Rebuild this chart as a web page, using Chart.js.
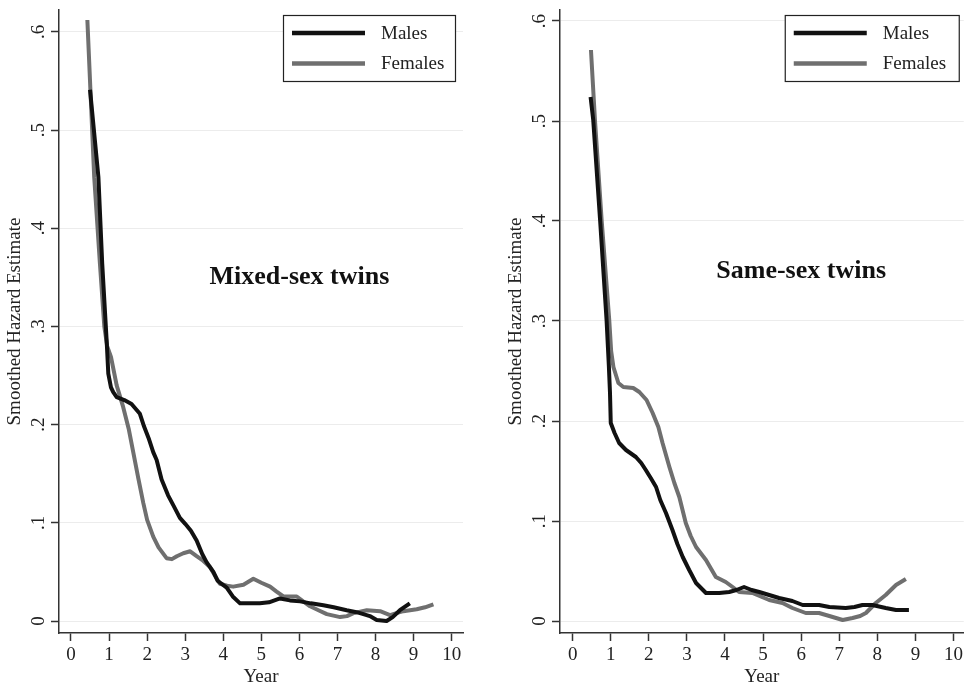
<!DOCTYPE html>
<html lang="en">
<head>
<meta charset="UTF-8">
<title>Smoothed Hazard Estimates - Twins</title>
<script src="https://cdn.jsdelivr.net/npm/chart.js"></script>
<style>
  html, body { margin: 0; padding: 0; background: #fff; }
  body { width: 966px; height: 686px; position: relative; overflow: hidden; }
  .panel { position: absolute; top: 0; }
  #left { left: 0; }
  #right { left: 501px; }
</style>
</head>
<body>
<div class="panel" id="left"><canvas id="mixedChart" width="466" height="686"></canvas></div>
<div class="panel" id="right"><canvas id="sameChart" width="465" height="686"></canvas></div>

<script>
// axis ticks
const xTicks = [0, 1, 2, 3, 4, 5, 6, 7, 8, 9, 10];
const yTicks = [0, 0.1, 0.2, 0.3, 0.4, 0.5, 0.6];
const yTickLabels = ['0', '.1', '.2', '.3', '.4', '.5', '.6'];
const seriesNames = ['Males', 'Females'];

// mixed-sex twins (left panel)
const mixedMaleX = [0.50, 0.72, 0.82, 0.94, 0.98, 1.05, 1.11, 1.20, 1.40, 1.59, 1.81, 1.92, 2.05, 2.16, 2.25, 2.38, 2.55, 2.70, 2.86, 3.00, 3.15, 3.30, 3.45, 3.56, 3.74, 3.85, 4.09, 4.25, 4.44, 4.70, 4.96, 5.20, 5.49, 5.75, 6.02, 6.30, 6.63, 6.90, 7.24, 7.50, 7.68, 7.85, 8.03, 8.29, 8.45, 8.64, 8.90];
const mixedMaleY = [0.541, 0.452, 0.364, 0.283, 0.252, 0.238, 0.233, 0.228, 0.225, 0.221, 0.211, 0.198, 0.185, 0.172, 0.164, 0.144, 0.128, 0.117, 0.105, 0.099, 0.092, 0.082, 0.068, 0.060, 0.050, 0.041, 0.034, 0.025, 0.018, 0.018, 0.018, 0.019, 0.023, 0.021, 0.020, 0.018, 0.016, 0.014, 0.011, 0.009, 0.007, 0.005, 0.001, 0.000, 0.004, 0.011, 0.018];
const mixedFemaleX = [0.43, 0.61, 0.76, 0.875, 0.95, 1.05, 1.20, 1.37, 1.52, 1.64, 1.77, 1.90, 2.00, 2.16, 2.30, 2.51, 2.65, 2.78, 2.95, 3.13, 3.30, 3.45, 3.65, 3.80, 3.91, 4.10, 4.26, 4.53, 4.79, 5.00, 5.23, 5.40, 5.58, 5.93, 6.10, 6.28, 6.50, 6.72, 7.07, 7.25, 7.42, 7.77, 8.12, 8.38, 8.55, 8.73, 9.08, 9.30, 9.52];
const mixedFemaleY = [0.612, 0.452, 0.364, 0.300, 0.280, 0.269, 0.240, 0.218, 0.195, 0.171, 0.145, 0.120, 0.103, 0.086, 0.075, 0.064, 0.063, 0.066, 0.069, 0.071, 0.066, 0.062, 0.055, 0.045, 0.038, 0.036, 0.035, 0.037, 0.043, 0.039, 0.035, 0.030, 0.025, 0.025, 0.020, 0.015, 0.011, 0.007, 0.004, 0.005, 0.008, 0.011, 0.010, 0.006, 0.008, 0.010, 0.012, 0.014, 0.017];

// same-sex twins (right panel)
const sameMaleX = [0.47, 0.54, 0.72, 0.89, 0.95, 0.98, 1.00, 1.10, 1.22, 1.40, 1.66, 1.80, 1.92, 2.05, 2.19, 2.30, 2.45, 2.62, 2.75, 2.89, 3.06, 3.24, 3.50, 3.85, 4.11, 4.30, 4.50, 4.70, 4.90, 5.16, 5.42, 5.77, 6.04, 6.47, 6.74, 7.17, 7.40, 7.61, 7.87, 8.22, 8.49, 8.83];
const sameMaleY = [0.524, 0.501, 0.401, 0.301, 0.255, 0.228, 0.198, 0.188, 0.178, 0.171, 0.164, 0.158, 0.151, 0.143, 0.134, 0.121, 0.108, 0.091, 0.077, 0.064, 0.051, 0.038, 0.028, 0.028, 0.029, 0.031, 0.034, 0.031, 0.029, 0.026, 0.023, 0.020, 0.016, 0.016, 0.014, 0.013, 0.014, 0.016, 0.016, 0.013, 0.011, 0.011];
const sameFemaleX = [0.48, 0.585, 0.76, 0.96, 1.01, 1.07, 1.20, 1.33, 1.59, 1.75, 1.94, 2.10, 2.25, 2.36, 2.54, 2.67, 2.80, 2.97, 3.10, 3.24, 3.50, 3.76, 4.02, 4.20, 4.37, 4.72, 5.16, 5.51, 5.77, 6.12, 6.47, 6.74, 7.09, 7.35, 7.55, 7.70, 7.96, 8.22, 8.49, 8.75];
const sameFemaleY = [0.571, 0.501, 0.401, 0.301, 0.270, 0.254, 0.238, 0.234, 0.233, 0.229, 0.221, 0.208, 0.194, 0.178, 0.154, 0.138, 0.124, 0.098, 0.085, 0.074, 0.061, 0.044, 0.039, 0.034, 0.029, 0.028, 0.021, 0.018, 0.013, 0.008, 0.008, 0.005, 0.001, 0.003, 0.005, 0.008, 0.018, 0.026, 0.036, 0.042];

Chart.defaults.font.family = '"Liberation Serif", "Times New Roman", serif';
Chart.defaults.color = '#222';

const MALE_COLOR = '#111111';
const FEMALE_COLOR = '#6f6f6f';

function zip(xs, ys) {
    return xs.map((x, i) => ({ x: x, y: ys[i] }));
}

// rotated y tick labels, panel label and boxed legend
const decorations = {
    id: 'decorations',
    afterDraw(chart, args, opts) {
        const { ctx, chartArea, scales } = chart;
        const x = scales.x, y = scales.y;
        ctx.save();

        ctx.font = '19px "Liberation Serif"';
        ctx.fillStyle = '#222';
        ctx.textAlign = 'center';
        ctx.textBaseline = 'middle';
        yTicks.forEach((v, i) => {
            ctx.save();
            ctx.translate(chartArea.left - 20, y.getPixelForValue(v));
            ctx.rotate(-Math.PI / 2);
            ctx.fillText(yTickLabels[i], 0, 0);
            ctx.restore();
        });

        ctx.font = 'bold 26px "Liberation Serif"';
        ctx.fillStyle = '#111';
        ctx.fillText(opts.label, x.getPixelForValue(opts.labelX), y.getPixelForValue(opts.labelY));

        // legend box
        const w = opts.legendWidth, h = 66;
        const left = chartArea.right - opts.legendRight - w;
        const top = chartArea.top + 5;
        ctx.fillStyle = '#fff';
        ctx.fillRect(left, top, w, h);
        ctx.strokeStyle = '#222';
        ctx.lineWidth = 1.2;
        ctx.strokeRect(left + 0.5, top + 0.5, w, h);
        ctx.font = '19px "Liberation Serif"';
        ctx.textAlign = 'left';
        chart.data.datasets.forEach((ds, i) => {
            const ly = top + 18 + i * 30.5;
            ctx.strokeStyle = ds.borderColor;
            ctx.lineWidth = 4.5;
            ctx.lineCap = 'butt';
            ctx.beginPath();
            ctx.moveTo(left + 9, ly);
            ctx.lineTo(left + 82, ly);
            ctx.stroke();
            ctx.fillStyle = '#222';
            ctx.fillText(ds.label, left + 98, ly + 1);
        });
        ctx.restore();
    }
};

function makeChart(canvasId, male, female, yMin, yMax, xMin, xMax, label, legendRight, legendWidth, padRight) {
    return new Chart(document.getElementById(canvasId), {
        type: 'line',
        data: {
            datasets: [
                { label: seriesNames[0], data: male, borderColor: MALE_COLOR, borderWidth: 4 },
                { label: seriesNames[1], data: female, borderColor: FEMALE_COLOR, borderWidth: 4 }
            ]
        },
        options: {
            responsive: false,
            animation: false,
            layout: { padding: { top: 10, right: padRight, left: 0, bottom: 0 } },
            elements: {
                point: { radius: 0, hoverRadius: 0 },
                line: { tension: 0, borderJoinStyle: 'round', borderCapStyle: 'butt', fill: false }
            },
            plugins: {
                legend: { display: false },
                tooltip: { enabled: false },
                decorations: { label: label, labelX: 6, labelY: 0.35, legendRight: legendRight, legendWidth: legendWidth }
            },
            scales: {
                x: {
                    type: 'linear',
                    min: xMin,
                    max: xMax,
                    afterBuildTicks: s => { s.ticks = xTicks.map(v => ({ value: v })); },
                    afterFit: s => { s.height = 53; },
                    ticks: { font: { size: 19 }, color: '#222', padding: 3, maxRotation: 0, callback: v => String(v) },
                    grid: { display: true, drawOnChartArea: false, drawTicks: true, tickLength: 8, tickColor: '#333', tickWidth: 1.5 },
                    border: { display: true, color: '#333', width: 1.5 },
                    title: { display: true, text: 'Year', font: { size: 19 }, color: '#222', padding: { top: 0, bottom: -2 } }
                },
                y: {
                    type: 'linear',
                    min: yMin,
                    max: yMax,
                    afterBuildTicks: s => { s.ticks = yTicks.map(v => ({ value: v })); },
                    afterFit: s => { s.width = 59; },
                    ticks: { display: false },
                    grid: { color: '#ececec', lineWidth: 1, drawTicks: true, tickLength: 8, tickColor: '#333', tickWidth: 1.5 },
                    border: { display: true, color: '#333', width: 1.5 },
                    title: { display: true, text: 'Smoothed Hazard Estimate', font: { size: 19 }, color: '#222', padding: { top: 4, bottom: 0 } }
                }
            }
        },
        plugins: [decorations]
    });
}

makeChart('mixedChart', zip(mixedMaleX, mixedMaleY), zip(mixedFemaleX, mixedFemaleY),
    -0.0122, 0.6222, -0.315, 10.297, 'Mixed-sex twins', 8, 172, 3);
makeChart('sameChart', zip(sameMaleX, sameMaleY), zip(sameFemaleX, sameFemaleY),
    -0.012, 0.611, -0.333, 10.27, 'Same-sex twins', 5, 174, 1);
</script>
</body>
</html>
